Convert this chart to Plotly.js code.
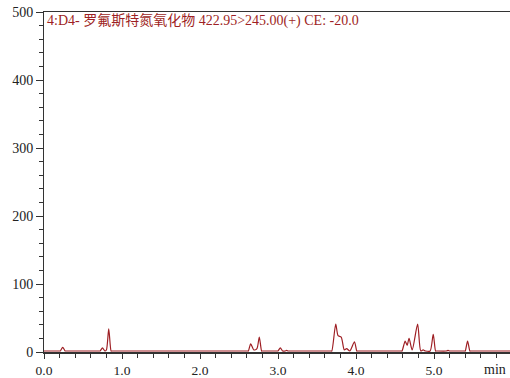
<!DOCTYPE html>
<html>
<head>
<meta charset="utf-8">
<script src="https://cdn.plot.ly/plotly-3.0.1.min.js"></script>
<style>html,body{margin:0;padding:0;background:#fff;}#chart{width:510px;height:378px;}</style>
</head>
<body>
<div id="chart"></div>
<script>
// retention time (min)
var timeMin = [0, 0.20, 0.21, 0.24, 0.27, 0.28,
  0.71, 0.72, 0.75, 0.78, 0.80, 0.83, 0.86, 0.87,
  2.61, 2.62, 2.65, 2.69, 2.73, 2.76, 2.79, 2.80,
  2.99, 3.00, 3.03, 3.06, 3.09, 3.11, 3.13, 3.14,
  3.68, 3.69, 3.74, 3.77, 3.81, 3.85, 3.88, 3.92, 3.98, 4.01, 4.02,
  4.58, 4.59, 4.63, 4.655, 4.68, 4.72, 4.79, 4.83, 4.86, 4.89,
  4.95, 4.99, 5.02, 5.03, 5.16, 5.18, 5.20, 5.21,
  5.39, 5.40, 5.43, 5.46, 5.47, 6.0];
// intensity
var intensity = [1.5, 1.5, 1.5, 7, 1.5, 1.5,
  1.5, 1.5, 6, 1.5, 3, 34, 1.5, 1.5,
  1.5, 1.5, 12, 3, 5, 22, 1.5, 1.5,
  1.5, 1.5, 6, 1.5, 1.5, 2.5, 1.5, 1.5,
  1.5, 1.5, 41, 24, 22, 3, 5, 1.5, 15, 1.5, 1.5,
  1.5, 1.5, 16, 10, 20, 3, 41, 1.5, 3, 1.5,
  1.5, 26, 1.5, 1.5, 1.5, 2.5, 1.5, 1.5,
  1.5, 1.5, 16, 1.5, 1.5, 1.5];
var yTicks = [0, 100, 200, 300, 400, 500];
var xTicks = [0, 1, 2, 3, 4, 5];
var xTickText = ["0.0", "1.0", "2.0", "3.0", "4.0", "5.0"];
var label = "4:D4- 罗氟斯特氮氧化物 422.95>245.00(+) CE: -20.0";

var font = "Liberation Serif, Times New Roman, Noto Sans CJK SC, serif";
var trace = {
  x: timeMin, y: intensity, type: "scatter", mode: "lines",
  line: {color: "#9e1f24", width: 1.2, shape: "spline", smoothing: 0.7},
  hoverinfo: "none"
};
var layout = {
  width: 510, height: 378,
  margin: {l: 44, r: 0, t: 12, b: 26},
  paper_bgcolor: "#fff", plot_bgcolor: "#fff",
  showlegend: false,
  font: {family: font, size: 14, color: "#222"},
  xaxis: {
    range: [0, 5.974], tickvals: xTicks, ticktext: xTickText,
    ticks: "outside", ticklen: 5, tickcolor: "#333", tickwidth: 1,
    showline: true, linecolor: "#333", linewidth: 1.5, mirror: true,
    showgrid: false, zeroline: false,
    minor: {dtick: 0.2, ticks: "outside", ticklen: 4, tickcolor: "#333", showgrid: false},
    tickfont: {family: font, size: 13.5, color: "#222"}
  },
  yaxis: {
    range: [0, 500], tickvals: yTicks,
    ticks: "outside", ticklen: 7, tickcolor: "#333", tickwidth: 1,
    showline: true, linecolor: "#333", linewidth: 1,
    showgrid: false, zeroline: false,
    minor: {dtick: 20, ticks: "outside", ticklen: 4, tickcolor: "#333", showgrid: false},
    tickfont: {family: font, size: 14, color: "#222"}
  },
  annotations: [
    {text: label, xref: "paper", yref: "paper", x: 0, y: 1, xanchor: "left", yanchor: "top",
     xshift: 1, yshift: 1, showarrow: false, font: {family: font, size: 14, color: "#9e1f24"}},
    {text: "min", xref: "paper", yref: "paper", x: 1, y: 0, xanchor: "right", yanchor: "top",
     xshift: -2, yshift: -8, showarrow: false, font: {family: font, size: 14, color: "#222"}}
  ]
};
Plotly.newPlot("chart", [trace], layout, {displayModeBar: false, staticPlot: true});
</script>
</body>
</html>
